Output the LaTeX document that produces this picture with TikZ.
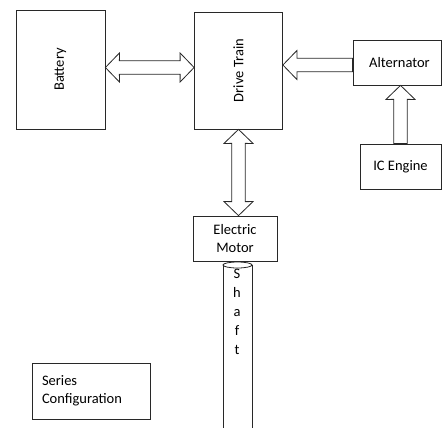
\documentclass[tikz,border=0pt]{standalone}
\usepackage{fontspec}
\setmainfont{Carlito}
\usetikzlibrary{calc,positioning}
\definecolor{linegray}{RGB}{40,40,40}

\begin{document}
\begin{tikzpicture}[x=1pt, y=-1pt,
        every node/.style={font=\fontsize{14.5}{18.5}\selectfont},
        box/.style={rectangle, draw=linegray, line width=0.8pt, inner sep=0pt, align=center},
        dblarrow/.style={draw=linegray, line width=0.8pt, fill=white, to path={
            -- ($(\tikztostart)!20.16pt!46:(\tikztotarget)$)
            -- ($(\tikztostart)!15.54pt!25.74:(\tikztotarget)$)
            -- ($(\tikztotarget)!15.54pt!-25.74:(\tikztostart)$)
            -- ($(\tikztotarget)!20.16pt!-46:(\tikztostart)$)
            -- (\tikztotarget)
            -- ($(\tikztotarget)!20.16pt!46:(\tikztostart)$)
            -- ($(\tikztotarget)!15.54pt!25.74:(\tikztostart)$)
            -- ($(\tikztostart)!15.54pt!-25.74:(\tikztotarget)$)
            -- ($(\tikztostart)!20.16pt!-46:(\tikztotarget)$)
            -- cycle}},
        sglarrow/.style={draw=linegray, line width=0.8pt, fill=white, to path={
            ($(\tikztostart)!6.75pt!90:(\tikztotarget)$)
            -- ($(\tikztotarget)!15.54pt!-25.74:(\tikztostart)$)
            -- ($(\tikztotarget)!20.16pt!-46:(\tikztostart)$)
            -- (\tikztotarget)
            -- ($(\tikztotarget)!20.16pt!46:(\tikztostart)$)
            -- ($(\tikztotarget)!15.54pt!25.74:(\tikztostart)$)
            -- ($(\tikztostart)!6.75pt!-90:(\tikztotarget)$)
            -- cycle}}
    ]
    \useasboundingbox[fill=white] (0,0) rectangle (442,428);

    \node[box, minimum width=89pt, minimum height=119pt] (bat) at (60.5,69.5) {\rotatebox{90}{Battery}};
    \node[box, minimum width=88pt, minimum height=117pt] (dt) at (238.5,70.5) {\rotatebox{90}{Drive Train}};
    \node[box, minimum width=88pt, minimum height=45pt] (alt) at (397,62.5) {\hspace{5pt}Alternator};
    \node[box, minimum width=81pt, minimum height=45pt] (ic) at (400.5,166.5) {IC Engine};
    \node[box, minimum width=84pt, minimum height=45pt] (em) at (235,238.5) {Electric\\Motor};
    \node[box, minimum width=118pt, minimum height=56pt, text width=98pt, align=left] (cfg) at (91,391) {Series\\Configuration};

    % shaft below the motor
    \draw[linegray, line width=0.8pt] (223,265) -- (223,432) (252,265) -- (252,432);
    \draw[linegray, line width=0.8pt] (237.5,265) ellipse [x radius=14.5, y radius=3];
    \node[anchor=north, align=center, font=\fontsize{14.5}{19}\selectfont] (shaft) at (237,266) {S\\h\\a\\f\\t};

    % block arrows
    \draw[dblarrow] ([yshift=2pt]bat.east) to ([yshift=2pt]bat.east -| dt.west);
    \draw[sglarrow] ([yshift=-2.5pt]alt.west) to ([yshift=-2.5pt]alt.west -| dt.east);
    \draw[sglarrow] (ic.north) to (ic.north |- alt.south);
    \draw[dblarrow] (dt.south) to (dt.south |- em.north);
\end{tikzpicture}
\end{document}
